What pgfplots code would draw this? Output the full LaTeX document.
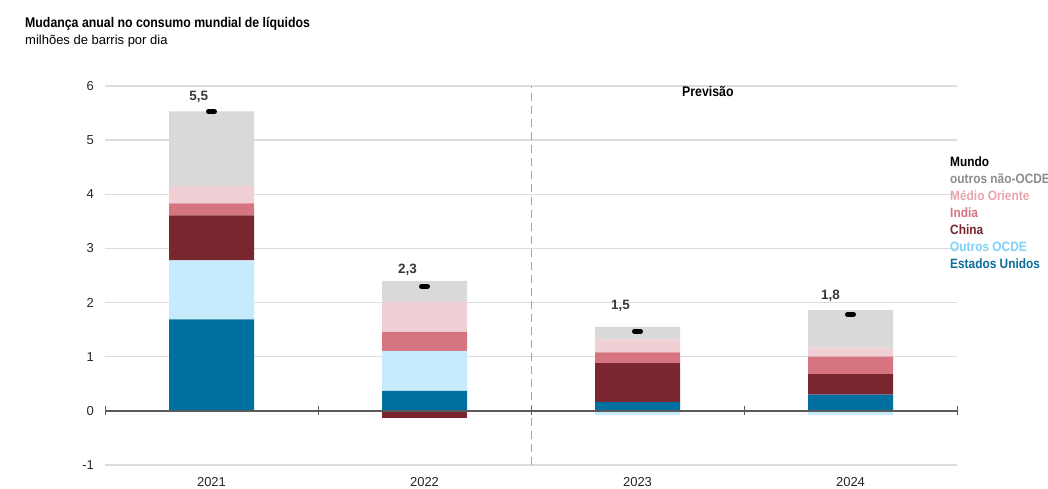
\documentclass[border=0pt]{standalone}
\usepackage{fontspec}
\setmainfont{Liberation Sans}
\newfontfamily\condb[FakeStretch=0.88]{Liberation Sans}
\usepackage{pgfplots}
\pgfplotsset{compat=1.18}

\definecolor{cUS}{HTML}{0070A0}
\definecolor{cOCDE}{HTML}{C5EBFC}
\definecolor{cChina}{HTML}{7A2631}
\definecolor{cIndia}{HTML}{D6747F}
\definecolor{cME}{HTML}{F1D0D5}
\definecolor{cOutros}{HTML}{D9D9D9}
\definecolor{tOutros}{HTML}{8C8C8C}
\definecolor{tME}{HTML}{E9A3AC}
\definecolor{tOCDE}{HTML}{7CD3F7}
\definecolor{tUS}{HTML}{0A6D9A}
\definecolor{gridc}{HTML}{DDDDDD}
\definecolor{zeroc}{HTML}{5A5A5A}

\pgfplotsset{
  base/.style={
    scale only axis, width=852pt, height=379pt,
    xmin=-0.5, xmax=3.5, ymin=-1, ymax=6,
    enlargelimits=false, axis line style={draw=none},
    major tick length=0pt, clip=false,
    at={(105pt,23pt)}, anchor=south west,
  },
}

\begin{document}
\begin{tikzpicture}[x=1pt,y=1pt]
% positive parts, stacked
\begin{axis}[base, ybar stacked, bar width=85pt,
  ytick={-1,0,1,2,3,4,5,6}, yticklabels={-1,0,1,2,3,4,5,6},
  ymajorgrids, grid style={gridc, line width=1.3pt},
  xtick={0,1,2,3}, xticklabels={2021,2022,2023,2024},
  tick label style={font=\fontsize{13}{15}\selectfont, text=black!85},
  xticklabel style={yshift=-8.5pt}, yticklabel style={xshift=-7.5pt}]
  \addplot[fill=cUS, draw=none] coordinates {(0,1.69) (1,0.37) (2,0.16) (3,0.30)};
  \addplot[fill=cOCDE, draw=none] coordinates {(0,1.09) (1,0.74) (2,0) (3,0)};
  \addplot[fill=cChina, draw=none] coordinates {(0,0.83) (1,0) (2,0.72) (3,0.38)};
  \addplot[fill=cIndia, draw=none] coordinates {(0,0.22) (1,0.35) (2,0.20) (3,0.32)};
  \addplot[fill=cME, draw=none] coordinates {(0,0.32) (1,0.55) (2,0.24) (3,0.17)};
  \addplot[fill=cOutros, draw=none] coordinates {(0,1.38) (1,0.39) (2,0.23) (3,0.69)};
  \draw[black!35, line width=0.9pt, dash pattern=on 8pt off 5pt] (axis cs:1.5,-1) -- (axis cs:1.5,6);
\end{axis}
% negative parts, zero line, world totals
\begin{axis}[base, xtick=\empty, ytick=\empty]
  \addplot[ybar, bar width=85pt, bar shift=0pt, fill=cChina, draw=none] coordinates {(1,-0.13)};
  \addplot[ybar, bar width=85pt, bar shift=0pt, fill=cOCDE, draw=none] coordinates {(2,-0.08) (3,-0.08)};
  \draw[zeroc, line width=1.4pt] (axis cs:-0.5,0) -- (axis cs:3.5,0);
  \draw[zeroc, line width=1pt] (axis cs:-0.5,-0.085) -- (axis cs:-0.5,0.085);
  \draw[zeroc, line width=1pt] (axis cs:0.5,-0.085) -- (axis cs:0.5,0.085);
  \draw[zeroc, line width=1pt] (axis cs:1.5,-0.085) -- (axis cs:1.5,0.085);
  \draw[zeroc, line width=1pt] (axis cs:2.5,-0.085) -- (axis cs:2.5,0.085);
  \draw[zeroc, line width=1pt] (axis cs:3.5,-0.085) -- (axis cs:3.5,0.085);
  \addplot[only marks, mark=-, mark size=3pt, black,
    mark options={line width=5pt, line cap=round}]
    coordinates {(0,5.53) (1,2.30) (2,1.47) (3,1.78)};
  \addplot[only marks, mark=none, nodes near coords, point meta=explicit symbolic,
    nodes near coords style={anchor=center, text=black!78,
      font=\bfseries\fontsize{13.5}{15}\selectfont}]
    table[meta=lab] {
      x      y    lab
      -0.06  5.79 5,5
      0.92   2.60 2,3
      1.92   1.94 1,5
      2.906  2.12 1,8
    };
\end{axis}
% titles
\node[anchor=base west, inner sep=0] at (25,460) {\condb\bfseries\fontsize{14}{16}\selectfont Mudança anual no consumo mundial de líquidos};
\node[anchor=base west, inner sep=0] at (25,443) {\fontsize{13}{15}\selectfont milhões de barris por dia};
\node[anchor=base west, inner sep=0] at (682,391.5) {\condb\bfseries\fontsize{14}{16}\selectfont Previsão};
% legend
\begin{scope}[every node/.style={anchor=base west, inner sep=0, font=\condb\bfseries\fontsize{13.5}{15}\selectfont}]
  \node[text=black] at (950,321.3) {Mundo};
  \node[text=tOutros] at (950,304.3) {outros não-OCDE};
  \node[text=tME] at (950,287.3) {Médio Oriente};
  \node[text=cIndia] at (950,270.3) {India};
  \node[text=cChina] at (950,253.3) {China};
  \node[text=tOCDE] at (950,236.3) {Outros OCDE};
  \node[text=tUS] at (950,219.3) {Estados Unidos};
\end{scope}
\pgfresetboundingbox
\useasboundingbox (0,0) rectangle (1048,488);
\end{tikzpicture}
\end{document}
